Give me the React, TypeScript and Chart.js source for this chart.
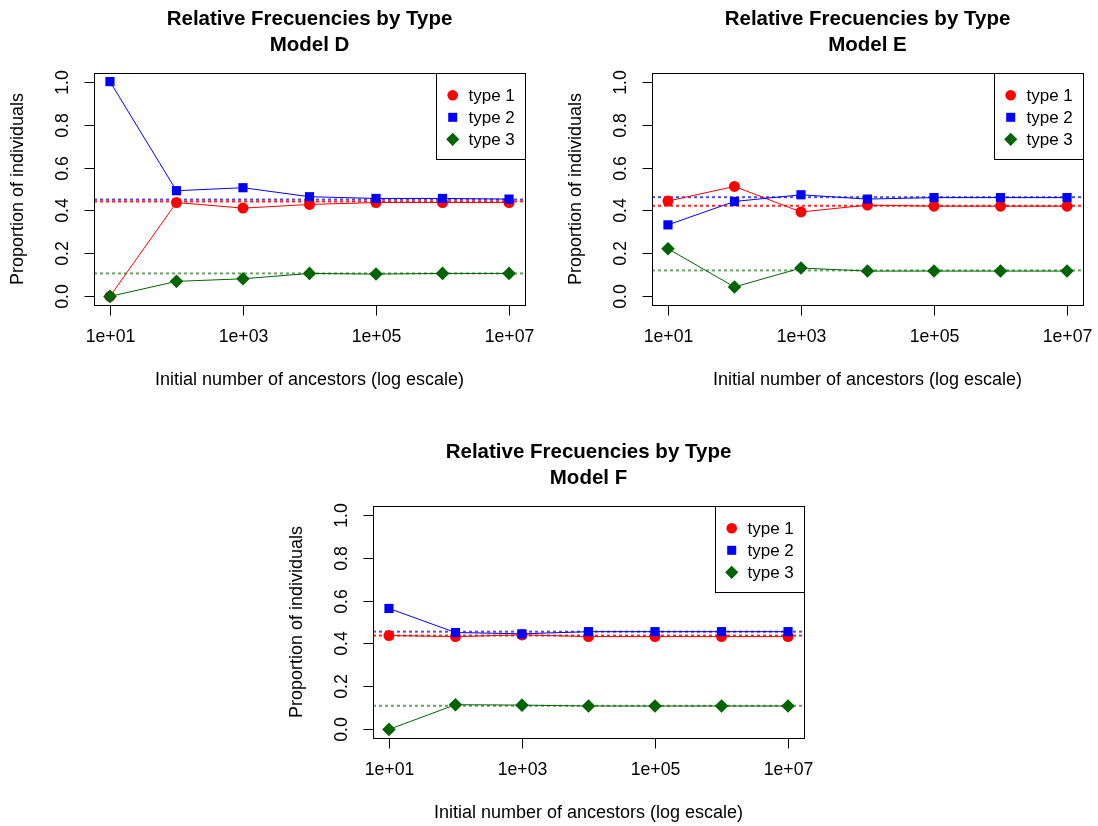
import React, { useEffect, useRef } from "react";
import { Chart, registerables } from "chart.js";

Chart.register(...registerables);

// ---------- data ----------
const logN = [1, 2, 3, 4, 5, 6, 7];
const xTickValues = [1, 3, 5, 7];
const xTickLabels = ["1e+01", "1e+03", "1e+05", "1e+07"];
const yTickValues = [0, 0.2, 0.4, 0.6, 0.8, 1.0];
const yTickLabels = ["0.0", "0.2", "0.4", "0.6", "0.8", "1.0"];
const seriesNames = ["type 1", "type 2", "type 3"];

const modelD_type1 = [0.0, 0.437, 0.411, 0.428, 0.437, 0.437, 0.437];
const modelD_type2 = [1.0, 0.492, 0.506, 0.464, 0.456, 0.456, 0.453];
const modelD_type3 = [0.0, 0.07, 0.082, 0.107, 0.104, 0.107, 0.107];
const modelD_means = [0.442, 0.451, 0.107];

const modelE_type1 = [0.444, 0.512, 0.393, 0.425, 0.42, 0.42, 0.42];
const modelE_type2 = [0.333, 0.442, 0.473, 0.453, 0.46, 0.46, 0.46];
const modelE_type3 = [0.222, 0.044, 0.132, 0.118, 0.118, 0.118, 0.118];
const modelE_means = [0.422, 0.462, 0.121];

const modelF_type1 = [0.437, 0.432, 0.44, 0.432, 0.432, 0.432, 0.432];
const modelF_type2 = [0.563, 0.451, 0.445, 0.455, 0.455, 0.455, 0.455];
const modelF_type3 = [0.0, 0.115, 0.113, 0.109, 0.109, 0.109, 0.109];
const modelF_means = [0.437, 0.455, 0.11];

const titleLine1 = "Relative Frecuencies by Type";
const xAxisTitle = "Initial number of ancestors (log escale)";
const yAxisTitle = "Proportion of individuals";

// ---------- styles ----------
const FONT = '"Liberation Sans", Arial, Helvetica, sans-serif';
const COLORS = ["#FF0000", "#0000FF", "#006400"];
const MEAN_COLORS = ["rgba(255,0,0,0.85)", "rgba(0,0,255,0.7)", "rgba(0,100,0,0.6)"];
const POINT_STYLES = ["circle", "rect", "rectRot"];
const POINT_RADII = [5.5, 6.5, 6.8];

const CW = 540;
const CH = 413;

function drawMarker(ctx: CanvasRenderingContext2D, idx: number, x: number, y: number) {
  ctx.save();
  ctx.fillStyle = COLORS[idx];
  ctx.beginPath();
  if (idx === 0) {
    ctx.arc(x, y, 5.3, 0, Math.PI * 2);
  } else if (idx === 1) {
    const s = 4.5;
    ctx.rect(x - s, y - s, 2 * s, 2 * s);
  } else {
    const r = 6.6;
    ctx.moveTo(x, y - r);
    ctx.lineTo(x + r, y);
    ctx.lineTo(x, y + r);
    ctx.lineTo(x - r, y);
    ctx.closePath();
  }
  ctx.fill();
  ctx.restore();
}

const rDecor = {
  id: "rDecor",
  afterDraw(chart: any, _args: any, opts: any) {
    const ctx: CanvasRenderingContext2D = chart.ctx;
    const { left, right, top, bottom } = chart.chartArea;
    const xs = chart.scales.x;
    const ys = chart.scales.y;
    ctx.save();
    ctx.strokeStyle = "#000";
    ctx.fillStyle = "#000";
    ctx.lineWidth = 1;
    // box
    ctx.strokeRect(Math.round(left) + 0.5, Math.round(top) + 0.5, Math.round(right - left), Math.round(bottom - top));
    // x ticks
    ctx.font = `17.7px ${FONT}`;
    ctx.textAlign = "center";
    ctx.textBaseline = "middle";
    const bY = Math.round(bottom) + 0.5;
    xTickValues.forEach((v, i) => {
      const px = Math.round(xs.getPixelForValue(v)) + 0.5;
      ctx.beginPath();
      ctx.moveTo(px, bY);
      ctx.lineTo(px, bY + 10);
      ctx.stroke();
      ctx.fillText(xTickLabels[i], px, bottom + 32);
    });
    // y ticks
    const lX = Math.round(left) + 0.5;
    yTickValues.forEach((v, i) => {
      const py = Math.round(ys.getPixelForValue(v)) + 0.5;
      ctx.beginPath();
      ctx.moveTo(lX - 10, py);
      ctx.lineTo(lX, py);
      ctx.stroke();
      ctx.save();
      ctx.translate(left - 31, py);
      ctx.rotate(-Math.PI / 2);
      ctx.fillText(yTickLabels[i], 0, 0);
      ctx.restore();
    });
    // axis titles
    const cx = (left + right) / 2;
    const cy = (top + bottom) / 2;
    ctx.font = `18px ${FONT}`;
    ctx.fillText(xAxisTitle, cx, bottom + 75);
    ctx.save();
    ctx.translate(left - 76, cy);
    ctx.rotate(-Math.PI / 2);
    ctx.fillText(yAxisTitle, 0, 0);
    ctx.restore();
    // main title
    ctx.font = `bold 20.5px ${FONT}`;
    ctx.fillText(titleLine1, cx, top - 54);
    ctx.fillText(opts.subtitle, cx, top - 28);
    // legend
    const lw = 89;
    const lh = 86;
    ctx.fillStyle = "#fff";
    ctx.fillRect(Math.round(right) - lw + 0.5, Math.round(top) + 0.5, lw, lh);
    ctx.strokeRect(Math.round(right) - lw + 0.5, Math.round(top) + 0.5, lw, lh);
    ctx.font = `17px ${FONT}`;
    ctx.textAlign = "left";
    seriesNames.forEach((name, i) => {
      const ry = top + 22.3 + i * 22;
      drawMarker(ctx, i, right - 72.3, ry);
      ctx.fillStyle = "#000";
      ctx.fillText(name, right - 56.5, ry + 1);
    });
    ctx.restore();
  },
};

function buildConfig(series: number[][], means: number[], subtitle: string): any {
  const datasets: any[] = [];
  series.forEach((vals, i) => {
    datasets.push({
      label: seriesNames[i],
      data: logN.map((x, k) => ({ x, y: vals[k] })),
      borderColor: COLORS[i],
      backgroundColor: COLORS[i],
      borderWidth: 1,
      pointStyle: POINT_STYLES[i],
      pointRadius: POINT_RADII[i],
      pointBorderWidth: 0,
      order: 3 - i,
    });
  });
  means.forEach((m, i) => {
    datasets.push({
      label: "mean " + seriesNames[i],
      data: [
        { x: 0.76, y: m },
        { x: 7.24, y: m },
      ],
      borderColor: MEAN_COLORS[i],
      borderWidth: 2,
      borderDash: [3, 3],
      pointRadius: 0,
      order: 10 + i,
    });
  });
  return {
    type: "line",
    data: { datasets },
    options: {
      animation: false,
      responsive: false,
      devicePixelRatio: 1,
      layout: { padding: { left: 94, right: 15, top: 73, bottom: 108 } },
      plugins: {
        legend: { display: false },
        tooltip: { enabled: false },
        title: { display: false },
        rDecor: { subtitle },
      },
      scales: {
        x: { type: "linear", min: 0.76, max: 7.24, display: false },
        y: { type: "linear", min: -0.04, max: 1.04, display: false },
      },
    },
    plugins: [rDecor],
  };
}

function Panel(props: { series: number[][]; means: number[]; subtitle: string; left: number; top: number }) {
  const ref = useRef<HTMLCanvasElement | null>(null);
  useEffect(() => {
    if (!ref.current) return;
    const chart = new Chart(ref.current, buildConfig(props.series, props.means, props.subtitle));
    return () => chart.destroy();
  }, []);
  return (
    <canvas
      ref={ref}
      width={CW}
      height={CH}
      style={{ position: "absolute", left: props.left, top: props.top, width: CW, height: CH }}
    />
  );
}

export default function App() {
  return (
    <div
      style={{
        position: "fixed",
        left: 0,
        top: 0,
        width: 1098,
        height: 826,
        background: "#fff",
        overflow: "hidden",
      }}
    >
      <Panel series={[modelD_type1, modelD_type2, modelD_type3]} means={modelD_means} subtitle="Model D" left={0} top={0} />
      <Panel series={[modelE_type1, modelE_type2, modelE_type3]} means={modelE_means} subtitle="Model E" left={558} top={0} />
      <Panel series={[modelF_type1, modelF_type2, modelF_type3]} means={modelF_means} subtitle="Model F" left={279} top={433} />
    </div>
  );
}
